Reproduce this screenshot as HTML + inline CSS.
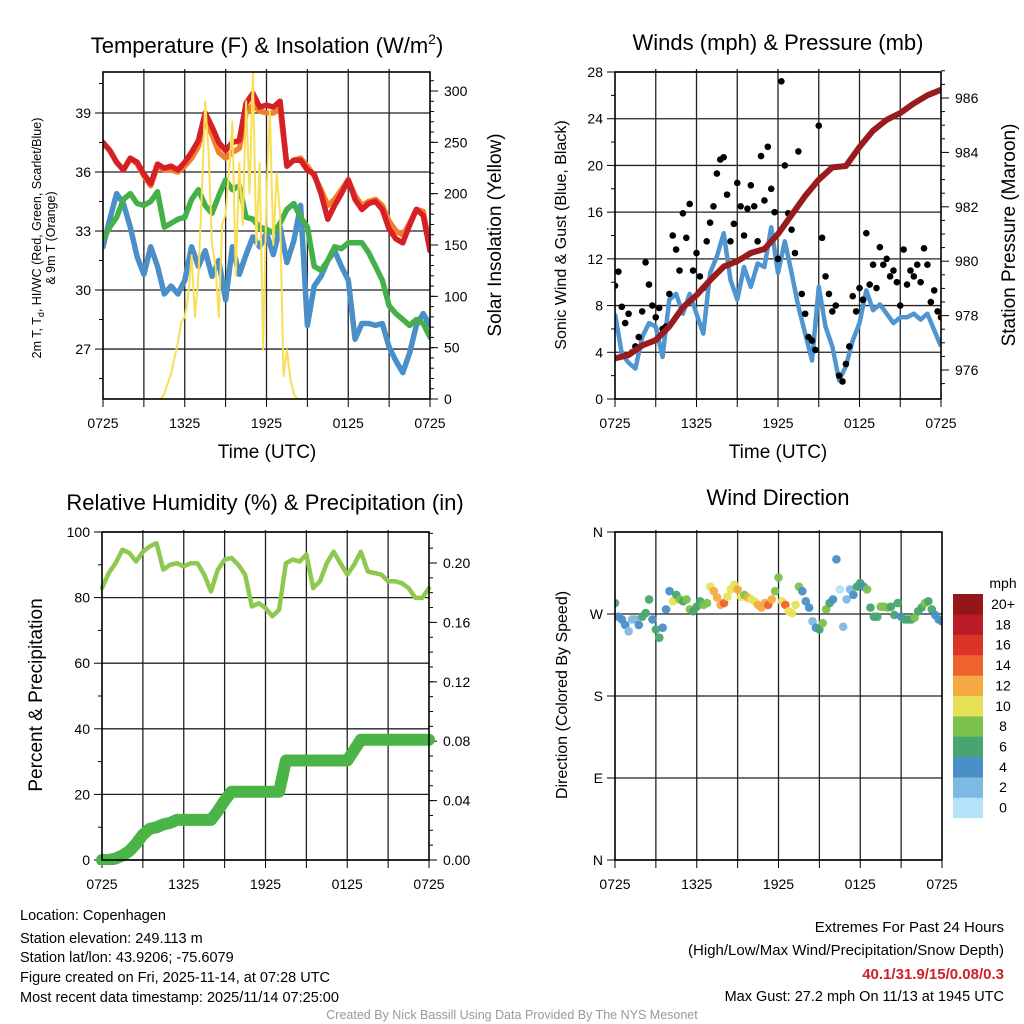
<!DOCTYPE html>
<html><head><meta charset="utf-8"><style>
html,body{margin:0;padding:0;background:#fff;}
svg{display:block;font-family:"Liberation Sans",Arial,sans-serif;}
</style></head><body>
<svg id="fig" width="1024" height="1024" viewBox="0 0 1024 1024" xmlns="http://www.w3.org/2000/svg">
<defs>
<clipPath id="c1"><rect x="103" y="68" width="327" height="331"/></clipPath>
<clipPath id="c2"><rect x="615" y="68" width="326" height="331"/></clipPath>
<clipPath id="c3"><rect x="95" y="525" width="340" height="340"/></clipPath>
<clipPath id="c4"><rect x="615" y="532" width="327" height="328"/></clipPath>
</defs>
<g id="titles" font-size="22" text-anchor="middle" fill="#000">
<text x="267" y="53">Temperature (F) &amp; Insolation (W/m<tspan font-size="14" dy="-9">2</tspan><tspan dy="9">)</tspan></text>
<text x="778" y="50">Winds (mph) &amp; Pressure (mb)</text>
<text x="265" y="510">Relative Humidity (%) &amp; Precipitation (in)</text>
<text x="778" y="505">Wind Direction</text>
</g>
<g font-size="19" text-anchor="middle">
<text x="267" y="458">Time (UTC)</text>
<text x="778" y="458">Time (UTC)</text>
<text transform="translate(501,235) rotate(-90)">Solar Insolation (Yellow)</text>
<text transform="translate(1015,235) rotate(-90)">Station Pressure (Maroon)</text>
<text transform="translate(42,695) rotate(-90)">Percent &amp; Precipitation</text>
</g>
<g font-size="16" text-anchor="middle">
<text transform="translate(566,235) rotate(-90)">Sonic Wind &amp; Gust (Blue, Black)</text>
<text transform="translate(567,695) rotate(-90)">Direction (Colored By Speed)</text>
</g>
<g font-size="12.5" text-anchor="middle">
<text transform="translate(41,238) rotate(-90)">2m T, T<tspan font-size="9" dy="3">d</tspan><tspan dy="-3">, HI/WC (Red, Green, Scarlet/Blue)</tspan></text>
<text transform="translate(55,238) rotate(-90)">&amp; 9m T (Orange)</text>
</g>
<g font-size="14.5" fill="#000">
<text x="20" y="920">Location: Copenhagen</text>
<text x="20" y="943">Station elevation: 249.113 m</text>
<text x="20" y="962">Station lat/lon: 43.9206; -75.6079</text>
<text x="20" y="982">Figure created on Fri, 2025-11-14, at 07:28 UTC</text>
<text x="20" y="1002">Most recent data timestamp: 2025/11/14 07:25:00</text>
</g>
<g font-size="15" text-anchor="end">
<text x="1004" y="932">Extremes For Past 24 Hours</text>
<text x="1004" y="955">(High/Low/Max Wind/Precipitation/Snow Depth)</text>
<text x="1004" y="979" fill="#d0202a" font-weight="bold">40.1/31.9/15/0.08/0.3</text>
<text x="1004" y="1001" font-size="14.5">Max Gust: 27.2 mph On 11/13 at 1945 UTC</text>
</g>
<text x="512" y="1019" font-size="12.5" fill="#999" text-anchor="middle">Created By Nick Bassill Using Data Provided By The NYS Mesonet</text>
</svg>
<script>
// ---- data ----
const xTickLabels = ["0725","1325","1925","0125","0725"];
const tempRed = [37.5,37.1,36.5,36.1,36.7,36.5,35.9,35.4,36.4,36.2,36.3,36.1,36.5,37.0,37.6,39.0,38.3,37.5,37.1,37.5,37.6,39.5,40.0,39.3,39.4,39.3,39.6,36.3,36.6,36.6,36.1,35.9,34.9,33.6,34.3,34.9,35.6,34.6,34.1,34.4,34.5,34.1,33.1,32.6,32.4,33.3,34.1,33.8,32.0];
const temp9m = [37.5,37.1,36.5,36.1,36.7,36.4,35.8,35.3,36.3,36.1,36.1,36.0,36.3,36.7,37.3,38.7,37.9,37.0,36.7,37.0,37.2,39.0,39.4,39.1,39.0,39.0,39.2,36.3,36.6,36.7,36.3,35.8,35.1,34.3,34.6,35.1,35.6,34.8,34.3,34.5,34.6,34.3,33.5,33.0,32.8,33.4,34.1,34.0,32.2];
const tempGreen = [32.6,33.2,33.7,34.6,34.9,34.4,34.3,34.5,35.0,33.2,33.4,33.6,33.7,34.6,35.1,34.3,33.9,34.8,35.6,35.1,35.3,33.7,33.6,33.2,33.1,32.9,33.4,34.1,34.4,33.7,33.2,31.2,31.0,31.5,32.2,32.1,32.4,32.4,32.4,31.9,31.2,30.5,29.2,28.8,28.5,28.2,28.5,28.3,27.6];
const tempBlue = [32.2,33.6,34.9,34.4,33.2,31.7,30.8,32.2,31.2,29.8,30.2,29.8,30.5,32.2,31.2,32.0,30.7,31.5,29.5,32.2,30.8,31.8,32.7,32.2,32.9,31.8,33.2,31.4,32.5,34.3,28.2,30.2,30.7,31.5,32.0,31.2,30.5,27.5,28.3,28.3,28.2,28.3,27.1,26.4,25.8,26.8,28.2,28.8,28.2];
const solar = [0,0,0,0,0,0,0,0,0,0,0,0,0,0,0,0,0,0,5,15,25,40,55,75,80,100,140,80,120,200,290,240,150,130,80,170,180,220,270,120,230,170,290,200,318,150,230,48,200,280,150,220,180,22,48,20,5,0,0,0,0,0,0,0,0,0,0,0,0,0,0,0,0,0,0,0,0,0,0,0,0,0,0,0,0,0,0,0,0,0,0,0,0,0,0,0,0];
const windSpeed = [7.3,3.9,3.1,2.6,5.3,6.5,6.2,3.6,8.5,9.0,7.3,9.0,7.3,5.6,10.8,12.2,14.2,10.2,8.5,11.3,9.6,11.6,11.3,14.7,10.8,13.5,10.8,7.9,5.6,3.3,9.6,6.2,4.5,1.6,2.8,5.0,6.5,9.3,7.6,8.1,7.3,6.5,7.0,7.0,7.3,6.8,7.3,5.9,4.5];
const windGust = [9.7,10.9,7.9,6.5,7.3,4.0,4.5,5.3,7.5,11.7,9.8,8.0,7.0,7.8,6.0,6.2,9.0,14.0,12.8,11.0,15.9,13.8,16.7,11.0,12.5,10.5,9.5,13.5,15.1,16.5,19.3,20.5,20.7,17.5,13.5,15.0,18.5,16.5,14.0,16.3,18.3,16.5,13.5,20.8,17.0,21.6,18.0,16.0,12.0,27.2,20.0,15.9,14.5,12.5,21.2,9.0,7.3,5.3,5.0,4.2,23.4,13.8,10.5,9.0,7.5,8.0,2.0,1.5,3.0,4.5,8.8,7.5,9.5,8.5,14.2,9.8,11.5,9.5,13.0,11.5,12.0,10.5,11.0,10.0,8.0,12.8,9.8,11.0,10.5,11.5,10.0,12.9,11.5,8.3,9.3,7.5,7.0];
const pressure = [976.43,976.55,976.9,977.1,977.6,978.3,978.75,979.3,979.8,980.0,980.3,980.45,981.0,981.7,982.4,983.0,983.45,983.5,984.2,984.8,985.2,985.45,985.8,986.1,986.3];
const relHum = [82.9,87.5,90.5,94.6,93.6,91.0,94.0,95.6,96.6,88.5,90.0,90.5,89.5,90.5,90.5,87.0,81.9,88.5,91.6,92.1,90.0,87.0,77.3,78.3,76.8,74.3,76.3,90.5,91.6,91.0,93.1,82.9,85.0,90.5,94.0,90.5,87.0,90.0,94.0,88.0,87.5,87.0,85.0,85.0,84.4,82.9,79.9,79.9,82.9];
const precip = [0,0,0.001,0.003,0.006,0.011,0.017,0.021,0.022,0.024,0.025,0.027,0.027,0.027,0.027,0.027,0.027,0.033,0.04,0.046,0.046,0.046,0.046,0.046,0.046,0.046,0.046,0.067,0.067,0.067,0.067,0.067,0.067,0.067,0.067,0.067,0.067,0.074,0.081,0.081,0.081,0.081,0.081,0.081,0.081,0.081,0.081,0.081,0.081];
const windDir = [282,267,264,258,251,264,264,258,267,271,286,264,253,244,255,275,295,284,291,286,284,286,275,273,278,284,280,282,300,295,288,280,282,289,297,302,297,289,291,288,286,284,280,277,282,280,286,295,310,284,280,273,271,280,300,295,284,277,262,255,253,260,275,282,286,330,297,256,286,297,291,300,304,300,297,277,267,267,278,278,277,278,269,282,267,264,264,264,266,273,277,282,284,275,269,264,262];
const dirSpeed = [6,4,4,4,2,3,2,4,6,6,6,4,6,6,4,4,4,10,7,8,7,8,8,7,6,6,8,8,10,12,13,12,14,10,10,10,13,11,9,12,11,10,12,12,12,14,12,8,8,10,14,10,10,11,8,4,4,4,3,4,6,8,8,6,4,4,1,2,3,3,4,6,6,5,8,6,6,6,8,8,8,7,6,6,4,6,6,7,8,6,6,8,7,6,4,4,4];
const speedBins = ["0","2","4","6","8","10","12","14","16","18","20+"];

// ---- helpers ----
const NS = "http://www.w3.org/2000/svg";
const svg = document.getElementById("fig");
function mk(tag, attrs, parent){const e=document.createElementNS(NS,tag);for(const k in attrs)e.setAttribute(k,attrs[k]);(parent||svg).appendChild(e);return e;}
const binColors = ["#b5e2f8","#7eb9e3","#4a8fc7","#48a56f","#7bc24b","#e7e157","#f6aa44","#f0622b","#dc3228","#b91c25","#931619"];

function panel(L,R,T,B,name){
  const g=mk("g",{});
  
  
  return g;
}
function xAxis(g,L,R,B,name){
  const sx=h=>L+h/24*(R-L);
  for(let k=1;k<8;k++){
    const gl=mk("line",{x1:sx(k*3),x2:sx(k*3),y1:B-330,y2:B,stroke:"#222","stroke-width":1.3},g);
    
    
  }
  for(let k=0;k<=8;k++){
    const t=mk("line",{x1:sx(k*3),x2:sx(k*3),y1:B,y2:B+8,stroke:"#000","stroke-width":1},g);
    
    
  }
  xTickLabels.forEach((s,i)=>{
    const t=mk("text",{x:sx(i*6),y:B+29,"font-size":14,"text-anchor":"middle"},g);
    t.textContent=s;
    
    
  });
  return sx;
}
function yTicks(g,side,X,L,R,vals,fy,labels,minor,name,grid){
  vals.forEach((v,i)=>{
    const y=fy(v);
    if(grid){const gl=mk("line",{x1:L,x2:R,y1:y,y2:y,stroke:"#222","stroke-width":1.3},g);
      
      }
    const tk=mk("line",{x1:X,x2:side<0?X-8:X+8,y1:y,y2:y,stroke:"#000","stroke-width":1},g);
    
    
    const t=mk("text",{x:side<0?X-12:X+14,y:y+5,"font-size":14,"text-anchor":side<0?"end":"start"},g);
    t.textContent=labels[i];
    
    
  });
  minor.forEach(v=>{
    const y=fy(v);
    const tk=mk("line",{x1:X,x2:side<0?X-4:X+4,y1:y,y2:y,stroke:"#000","stroke-width":1},g);
    
    
  });
}
function frame(g,L,R,T,B,name){
  const r=mk("rect",{x:L,y:T,width:R-L,height:B-T,fill:"none",stroke:"#000","stroke-width":1.6},g);
  
  
}
function pathD(arr,step,sx,sy){return arr.map((v,i)=>(i?"L":"M")+sx(i*step).toFixed(1)+","+sy(v).toFixed(1)).join("");}
function range(a,b,s){const o=[];for(let v=a;v<=b+1e-9;v+=s)o.push(+v.toFixed(4));return o;}

// ---- Panel 1 ----
{
const L=103,R=430,T=72,B=399,g=panel(L,R,T,B,'temperature');
const sx=xAxis(g,L,R,B,'temperature');
const sy=t=>113+(39-t)*19.67;
const ss=s=>399-s*308/300;
yTicks(g,-1,L,L,R,[27,30,33,36,39],sy,["27","30","33","36","39"],[25.5,28.5,31.5,34.5,37.5,40.5],'temperature-y',true);
yTicks(g,1,R,L,R,[0,50,100,150,200,250,300],ss,["0","50","100","150","200","250","300"],range(10,310,10),'solar-y',false);
const cg=mk("g",{"clip-path":"url(#c1)"},g);
[[tempBlue,"#4a8fc7","dewpoint-line"],[tempGreen,"#44b04a","heat-index-line"],[temp9m,"#f47f2a","temp-9m-line"],[tempRed,"#d62027","temp-2m-line"]].forEach(([a,c,n])=>{
  const p=mk("path",{d:pathD(a,0.5,sx,sy),fill:"none",stroke:c,"stroke-width":5.5,"stroke-linejoin":"round","stroke-linecap":"round"},cg);
  
  
});
const sp=mk("path",{d:pathD(solar,0.25,sx,ss),fill:"none",stroke:"#f8df55","stroke-width":2,"stroke-linejoin":"round"},cg);


frame(g,L,R,T,B,'temperature');
}
// ---- Panel 2 ----
{
const L=615,R=941,T=72,B=399,g=panel(L,R,T,B,'winds');
const sx=xAxis(g,L,R,B,'winds');
const sy=w=>399-w*327/28;
const sp=p=>98+(986-p)*27.2;
yTicks(g,-1,L,L,R,range(0,28,4),sy,range(0,28,4).map(String),range(2,26,4),'wind-y',true);
yTicks(g,1,R,L,R,range(976,986,2),sp,range(976,986,2).map(String),range(975.5,987,0.5).filter(v=>v%2!==0),'pressure-y',false);
const cg=mk("g",{"clip-path":"url(#c2)"},g);
const wl=mk("path",{d:pathD(windSpeed,0.5,sx,sy),fill:"none",stroke:"#4f95cf","stroke-width":4.5,"stroke-linejoin":"round"},cg);


windGust.forEach((v,i)=>{
  const c=mk("circle",{cx:sx(i*0.25),cy:sy(v),r:3.3,fill:"#000"},cg);
  
  
});
const pl=mk("path",{d:pathD(pressure,1,sx,sp),fill:"none",stroke:"#991b1e","stroke-width":6,"stroke-linejoin":"round","stroke-linecap":"round"},cg);


frame(g,L,R,T,B,'winds');
}
// ---- Panel 3 ----
{
const L=102,R=429,T=532,B=860,g=panel(L,R,T,B,'humidity');
const sx=xAxis(g,L,R,B,'humidity');
const sy=r=>860-r*3.28;
const sp=p=>860-p*1485;
yTicks(g,-1,L,L,R,range(0,100,20),sy,range(0,100,20).map(String),range(10,90,20),'humidity-y',true);
yTicks(g,1,R,L,R,range(0,0.2,0.04),sp,range(0,0.2,0.04).map(v=>v.toFixed(2)),range(0.01,0.22,0.01),'precip-y',false);
const cg=mk("g",{"clip-path":"url(#c3)"},g);
const rl=mk("path",{d:pathD(relHum,0.5,sx,sy),fill:"none",stroke:"#8dc94f","stroke-width":4.5,"stroke-linejoin":"round","stroke-linecap":"round"},cg);


const pp=mk("path",{d:pathD(precip,0.5,sx,sp),fill:"none",stroke:"#4bb447","stroke-width":12,"stroke-linejoin":"round","stroke-linecap":"round"},cg);


frame(g,L,R,T,B,'humidity');
}
// ---- Panel 4 ----
{
const L=615,R=942,T=532,B=860,g=panel(L,R,T,B,'direction');
const sx=xAxis(g,L,R,B,'direction');
const sy=d=>860-d*328/360;
yTicks(g,-1,L,L,R,[0,90,180,270,360],sy,["N","E","S","W","N"],[],'direction-y',true);
const cg=mk("g",{"clip-path":"url(#c4)"},g);
windDir.forEach((d,i)=>{
  const b=Math.min(10,Math.floor(dirSpeed[i]/2));
  const c=mk("circle",{cx:sx(i*0.25),cy:sy(d),r:4.3,fill:binColors[b],"fill-opacity":0.95},cg);
  
  
});
frame(g,L,R,T,B,'direction');
// colorbar
const cb=mk("g",{});


const mt=mk("text",{x:1003,y:588,"font-size":14,"text-anchor":"middle"},cb);
mt.textContent="mph";


speedBins.forEach((s,i)=>{
  const k=10-i, y=594+k*20.35;
  const r=mk("rect",{x:953,y:y,width:30,height:20.6,fill:binColors[i]},cb);
  
  
  const t=mk("text",{x:1003,y:y+15,"font-size":14,"text-anchor":"middle"},cb);
  t.textContent=s;
  
  
});
}
</script>
</body></html>
